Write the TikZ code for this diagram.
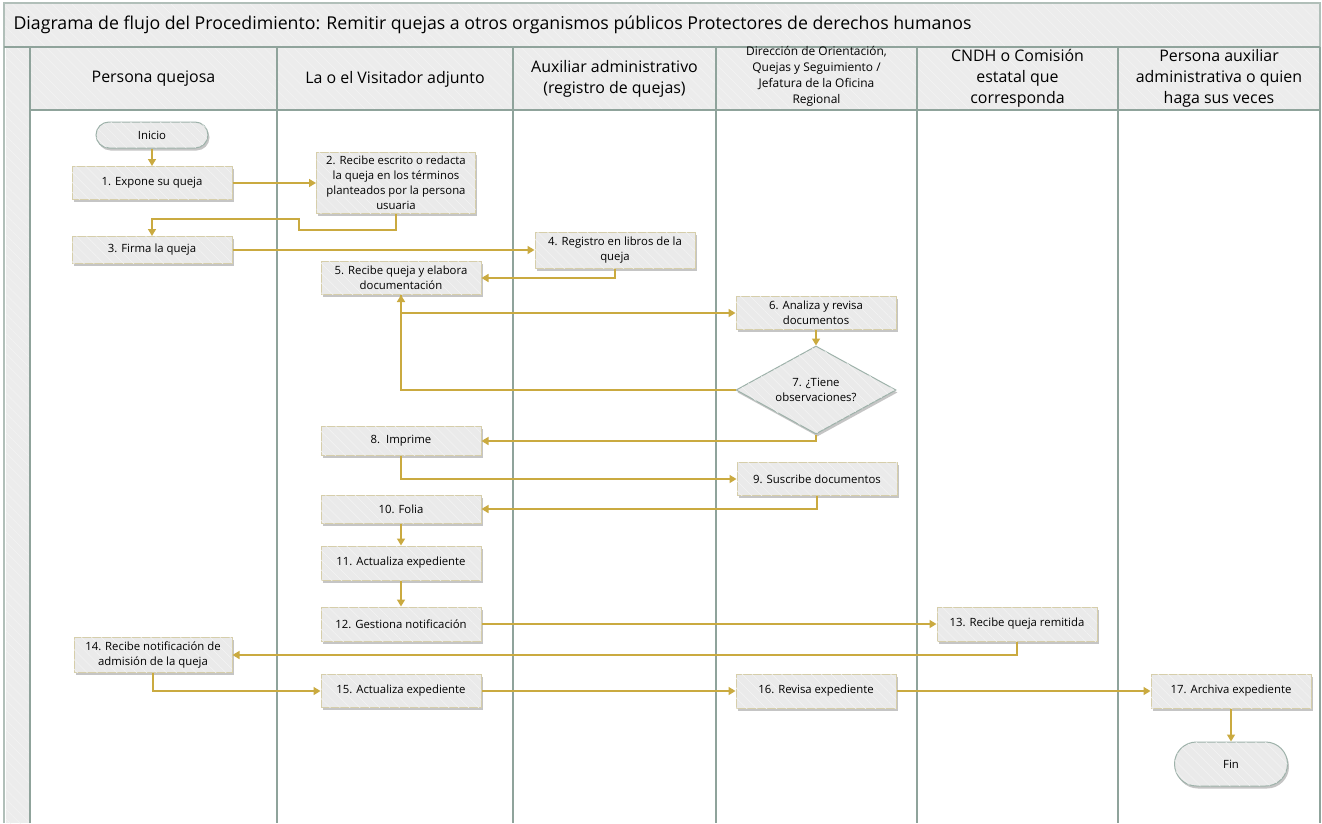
\documentclass[tikz,border=0pt]{standalone}
\usepackage{fontspec}
\setmainfont{Open Sans}
\usetikzlibrary{arrows.meta,shapes.geometric,shadows,patterns.meta}
\definecolor{lanec}{RGB}{143,163,155}
\definecolor{hdrfill}{RGB}{236,236,236}
\definecolor{boxfill}{RGB}{234,234,234}
\definecolor{hatchc}{RGB}{244,244,244}
\definecolor{boxline}{RGB}{214,206,170}
\definecolor{termline}{RGB}{158,178,170}
\definecolor{connc}{RGB}{202,170,64}
\begin{document}
\begin{tikzpicture}[x=1bp,y=-1bp,
  hatch/.style={postaction={pattern={Lines[angle=-45,distance=7bp,line width=0.5bp]}, pattern color=hatchc}},
  laneline/.style={draw=lanec, line width=1.6bp},
  shad/.style={drop shadow={shadow xshift=1.5bp, shadow yshift=-2.5bp, fill=black!45}},
  proc/.style={shad, hatch, draw=boxline, line width=1bp, fill=boxfill, minimum width=160bp, minimum height=33bp,
    inner sep=1bp, align=center, font=\fontsize{11.4}{15}\selectfont},
  term/.style={shad, hatch, draw=termline, line width=1bp, fill=boxfill, align=center, inner sep=1bp,
    font=\fontsize{11.4}{15}\selectfont},
  decis/.style={shad, hatch, diamond, aspect=1.8, draw=termline, line width=1bp, fill=boxfill, inner sep=0pt,
    minimum width=160bp, minimum height=88bp, align=center, font=\fontsize{11.4}{15}\selectfont},
  hdr/.style={align=center, font=\fontsize{16}{21}\selectfont},
  hdrsmall/.style={align=center, font=\fontsize{12}{16}\selectfont},
  conn/.style={draw=connc, line width=1.5bp, -{Triangle[length=7bp,width=8bp]}}
]
\useasboundingbox (0,0) rectangle (1322,823);
\fill[white] (0,0) rectangle (1322,823);
% title bar, header, stripe
\fill[hdrfill, hatch] (4,3) rectangle (1320,47);
\fill[hdrfill, hatch] (6,47) rectangle (1320,110);
\fill[hdrfill, hatch] (6,110) rectangle (30,823);
\draw[draw=lanec!70, line width=1.2bp] (4,823) -- (4,3) -- (1320,3) -- (1320,47);
\draw[laneline] (4,47) -- (1320,47);
\draw[laneline] (30,110) -- (1320,110);
\foreach \xx in {30,277,513,716,917,1118,1320}{
  \draw[laneline] (\xx,47) -- (\xx,823);
}
\node[anchor=west, font=\fontsize{17.8}{20}\selectfont] (title) at (10,25)
  {Diagrama de flujo del Procedimiento: Remitir quejas a otros organismos públicos Protectores de derechos humanos};
% headers
\node[hdr] (h1) at (153.5,79) {Persona quejosa};
\node[hdr] (h2) at (395,79) {La o el Visitador adjunto};
\node[hdr] (h3) at (614.5,79) {Auxiliar administrativo\\(registro de quejas)};
\node[hdrsmall] (h4) at (816.5,76) {Dirección de Orientación,\\Quejas y Seguimiento /\\Jefatura de la Oficina\\Regional};
\node[hdr] (h5) at (1017.5,78) {CNDH o Comisión\\estatal que\\corresponda};
\node[hdr] (h6) at (1219,78) {Persona auxiliar\\administrativa o quien\\haga sus veces};
% nodes
\node[term, minimum width=112bp, minimum height=26bp, rounded corners=13bp] (ini) at (152,135) {Inicio};
\node[proc] (n1) at (152,183) {1. Expone su queja};
\node[proc, minimum width=159bp, minimum height=61bp] (n2) at (396,183)
  {2. Recibe escrito o redacta\\la queja en los términos\\planteados por la persona\\usuaria};
\node[proc, minimum height=27bp] (n3) at (152,250) {3. Firma la queja};
\node[proc, minimum height=36bp] (n4) at (615,250) {4. Registro en libros de la\\queja};
\node[proc] (n5) at (401,278) {5. Recibe queja y elabora\\documentación};
\node[proc] (n6) at (816,313) {6. Analiza y revisa\\documentos};
\node[decis] (n7) at (816,390) {7. ¿Tiene\\observaciones?};
\node[proc, minimum height=29bp] (n8) at (401,441) {8.\ \ Imprime};
\node[proc] (n9) at (817,479) {9. Suscribe documentos};
\node[proc, minimum height=28bp] (n10) at (401,509) {10. Folia};
\node[proc, minimum height=34bp] (n11) at (401,563) {11. Actualiza expediente};
\node[proc, minimum height=34bp] (n12) at (401,624) {12. Gestiona notificación};
\node[proc, minimum height=34bp] (n13) at (1017,624) {13. Recibe queja remitida};
\node[proc, minimum width=158bp, minimum height=35bp] (n14) at (153,655) {14. Recibe notificación de\\admisión de la queja};
\node[proc] (n15) at (401,691) {15. Actualiza expediente};
\node[proc, minimum height=34bp] (n16) at (816,691) {16. Revisa expediente};
\node[proc, minimum height=34bp] (n17) at (1231,691) {17. Archiva expediente};
\node[term, minimum width=113bp, minimum height=44bp, rounded corners=22bp] (fin) at (1231,764) {Fin};
% connectors
\draw[conn] (ini) -- (n1);
\draw[conn] (n1.east) -- (n2.west |- n1.east);
\draw[conn] (n2.south) -- ++(0,16) -| (299,219) -| (n3.north);
\draw[conn] (n3.east) -- (n4.west |- n3.east);
\draw[conn] (n4.south) |- (n5.east);
\draw[conn] (n5.south) |- (n6.west);
\draw[conn] (n6.south) -- (n7.north);
\draw[conn] (n7.west) -| (n5.south);
\draw[conn] (n7.south) |- (n8.east);
\draw[conn] (n8.south) |- (n9.west);
\draw[conn] (n9.south) |- (n10.east);
\draw[conn] (n10) -- (n11);
\draw[conn] (n11) -- (n12);
\draw[conn] (n12.east) -- (n13.west);
\draw[conn] (n13.south) |- (n14.east);
\draw[conn] (n14.south) |- (n15.west);
\draw[conn] (n15.east) -- (n16.west |- n15.east);
\draw[conn] (n16.east) -- (n17.west |- n16.east);
\draw[conn] (n17) -- (fin);
\end{tikzpicture}
\end{document}
